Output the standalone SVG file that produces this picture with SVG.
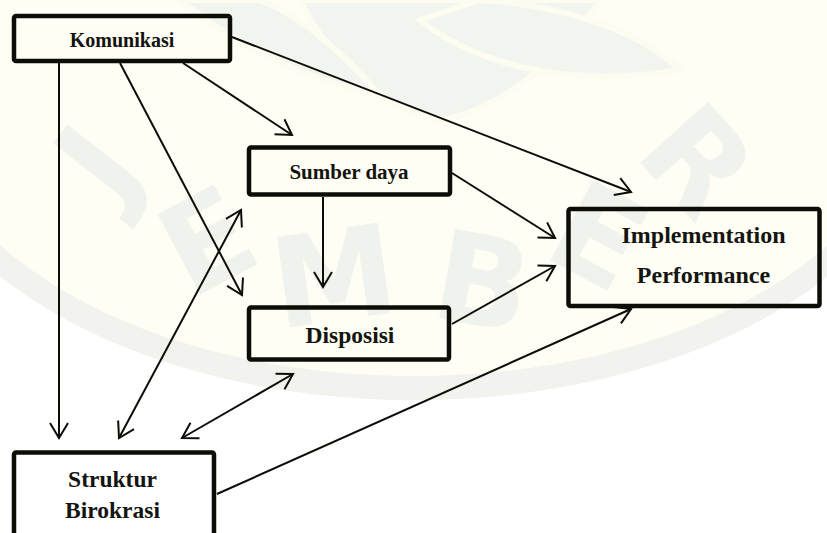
<svg xmlns="http://www.w3.org/2000/svg" width="827" height="533" viewBox="0 0 827 533">
  <style>
    .box { fill: none; stroke: #0d0d08; stroke-width: 4.5; }
    .lbl { font-family: "Liberation Serif", "Times New Roman", serif; font-weight: bold; fill: #141410; text-anchor: middle; }
    .edge { fill: none; stroke: #0d0d08; stroke-width: 2; }
    .wm { font-family: "DejaVu Sans", "Liberation Sans", sans-serif; font-weight: bold; fill: #f0f2ed; text-anchor: middle; }
    .leaf { fill: #f1f4ef; stroke: #fcfcf1; stroke-width: 6; }
  </style>
  <defs>
    <marker id="open" viewBox="-17 -11 19 22" markerWidth="19" markerHeight="22" refX="0" refY="0" orient="auto-start-reverse" markerUnits="userSpaceOnUse">
      <path d="M-15,-9 L0,0 L-15,9" fill="none" stroke="#0d0d08" stroke-width="2"/>
    </marker>
  </defs>

  <!-- paper and faint background seal -->
  <rect width="827" height="533" fill="#ffffff"/>
  <g id="seal">
    <ellipse cx="414" cy="90" rx="520" ry="305" fill="#fefef4"/>
    <ellipse cx="414" cy="90" rx="505" ry="298" fill="none" stroke="#f2f2ee" stroke-width="24"/>
    <path class="leaf" d="M300,0 C330,60 380,110 440,120 C500,110 560,60 600,0 Z"/>
    <path class="leaf" d="M420,20 C470,60 560,90 680,70 C640,30 560,5 480,0 Z"/>
    <path class="leaf" d="M180,0 C230,40 300,80 380,95 C340,50 300,15 260,0 Z"/>
    <text class="wm" font-size="125" transform="translate(132,190) rotate(-52)">J</text>
    <text class="wm" font-size="125" transform="translate(228,280) rotate(-28)">E</text>
    <text class="wm" font-size="125" transform="translate(340,320) rotate(-8)">M</text>
    <text class="wm" font-size="125" transform="translate(475,325) rotate(10)">B</text>
    <text class="wm" font-size="125" transform="translate(578,275) rotate(28)">E</text>
    <text class="wm" font-size="125" transform="translate(665,190) rotate(48)">R</text>
  </g>

  <g id="connectors">
    <path class="edge" d="M59,63 L59,438" marker-end="url(#open)"/>
    <path class="edge" d="M120,63 L242,295" marker-end="url(#open)"/>
    <path class="edge" d="M183,63 L292,135" marker-end="url(#open)"/>
    <path class="edge" d="M232,37 L631,192" marker-end="url(#open)"/>
    <path class="edge" d="M452,173 L555,238" marker-end="url(#open)"/>
    <path class="edge" d="M323,197 L323,287" marker-end="url(#open)"/>
    <path class="edge" d="M452,324 L555,266" marker-end="url(#open)"/>
    <path class="edge" d="M217,494 L631,309" marker-end="url(#open)"/>
    <path class="edge" d="M119,438 L241,210" marker-start="url(#open)" marker-end="url(#open)"/>
    <path class="edge" d="M182,438 L293,374" marker-start="url(#open)" marker-end="url(#open)"/>
  </g>

  <g id="komunikasi">
    <rect class="box" x="14" y="16" width="216" height="45" rx="2"/>
    <text class="lbl" x="122" y="47" font-size="20">Komunikasi</text>
  </g>
  <g id="sumber-daya">
    <rect class="box" x="249" y="147.5" width="201" height="47" rx="2"/>
    <text class="lbl" x="349" y="179" font-size="21">Sumber daya</text>
  </g>
  <g id="disposisi">
    <rect class="box" x="249" y="307.5" width="200" height="52" rx="2"/>
    <text class="lbl" x="350" y="343" font-size="23.5">Disposisi</text>
  </g>
  <g id="implementation-performance">
    <rect class="box" x="568.5" y="209" width="251" height="97" rx="2"/>
    <text class="lbl" x="703.5" y="243" font-size="24">Implementation</text>
    <text class="lbl" x="703.5" y="283" font-size="24">Performance</text>
  </g>
  <g id="struktur-birokrasi">
    <rect class="box" x="14" y="452.5" width="200" height="100" rx="2"/>
    <text class="lbl" x="112.5" y="487" font-size="23.5">Struktur</text>
    <text class="lbl" x="112.5" y="518" font-size="23.5">Birokrasi</text>
  </g>
</svg>
